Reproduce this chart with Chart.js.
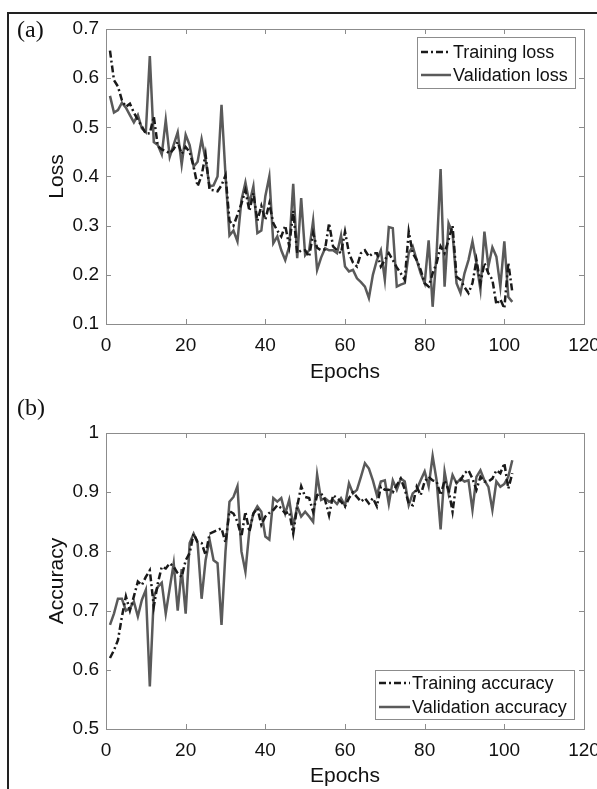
<!DOCTYPE html>
<html>
<head>
<meta charset="utf-8">
<script src="https://cdn.jsdelivr.net/npm/chart.js@4.4.1/dist/chart.umd.min.js"></script>
<style>
  html, body { margin: 0; padding: 0; background: #fff; overflow: hidden; width: 597px; height: 789px; position: relative; }
  #frame { position: absolute; left: 7px; top: 12px; width: 700px; height: 900px; border-left: 2px solid #222; border-top: 2px solid #222; }
  canvas { position: absolute; left: 0; }
  #lossChart { top: 0; }
  #accChart { top: 390px; }
  .tag { position: absolute; font-family: "Liberation Serif", serif; font-size: 24px; color: #111; }
</style>
</head>
<body>
<div id="frame"></div>
<canvas id="lossChart" width="620" height="390"></canvas>
<canvas id="accChart" width="620" height="399"></canvas>
<div class="tag" style="left:17px; top:16px;">(a)</div>
<div class="tag" style="left:17px; top:394px;">(b)</div>
<script>
// epochs 1..102
const epochs = Array.from({ length: 102 }, (_, i) => i + 1);

const trainLoss = [
  0.656, 0.596, 0.583, 0.555, 0.542, 0.548, 0.530, 0.515, 0.502, 0.487,
  0.488, 0.522, 0.462, 0.455, 0.452, 0.447, 0.456, 0.470, 0.446, 0.460,
  0.450, 0.420, 0.380, 0.402, 0.445, 0.373, 0.372, 0.370, 0.382, 0.402,
  0.310, 0.300, 0.322, 0.345, 0.372, 0.330, 0.366, 0.310, 0.340, 0.312,
  0.345, 0.305, 0.290, 0.278, 0.300, 0.258, 0.330, 0.244, 0.250, 0.250,
  0.237, 0.285, 0.255, 0.250, 0.252, 0.305, 0.258, 0.250, 0.244, 0.288,
  0.244, 0.225, 0.217, 0.244, 0.250, 0.237, 0.244, 0.244, 0.217, 0.230,
  0.244, 0.230, 0.215, 0.203, 0.190, 0.288, 0.244, 0.230, 0.210, 0.183,
  0.176, 0.203, 0.224, 0.258, 0.244, 0.271, 0.300, 0.196, 0.190, 0.175,
  0.163, 0.183, 0.230, 0.183, 0.224, 0.203, 0.190, 0.140, 0.150, 0.132,
  0.224, 0.165
];
const valLoss = [
  0.564, 0.530, 0.535, 0.550, 0.540, 0.525, 0.510, 0.525, 0.498, 0.490,
  0.645, 0.470, 0.464, 0.445, 0.515, 0.440, 0.465, 0.490, 0.424, 0.485,
  0.464, 0.420, 0.430, 0.476, 0.434, 0.380, 0.382, 0.400, 0.546, 0.403,
  0.280, 0.290, 0.268, 0.352, 0.388, 0.345, 0.380, 0.285, 0.290, 0.360,
  0.400, 0.264, 0.278, 0.250, 0.230, 0.258, 0.385, 0.234, 0.356, 0.240,
  0.250, 0.310, 0.210, 0.235, 0.254, 0.250, 0.250, 0.244, 0.280, 0.217,
  0.207, 0.210, 0.193, 0.185, 0.176, 0.153, 0.200, 0.230, 0.250, 0.190,
  0.297, 0.295, 0.176, 0.180, 0.183, 0.244, 0.258, 0.230, 0.203, 0.183,
  0.270, 0.135, 0.244, 0.415, 0.176, 0.305, 0.285, 0.183, 0.163, 0.203,
  0.230, 0.268, 0.224, 0.170, 0.288, 0.217, 0.256, 0.237, 0.176, 0.268,
  0.155, 0.145
];
const trainAcc = [
  0.620, 0.633, 0.650, 0.690, 0.724, 0.700, 0.724, 0.749, 0.743, 0.757,
  0.768, 0.707, 0.746, 0.774, 0.771, 0.780, 0.774, 0.763, 0.757, 0.785,
  0.797, 0.830, 0.816, 0.814, 0.794, 0.830, 0.833, 0.836, 0.839, 0.815,
  0.868, 0.864, 0.850, 0.825, 0.867, 0.833, 0.864, 0.873, 0.845, 0.859,
  0.865, 0.870, 0.878, 0.873, 0.864, 0.867, 0.830, 0.876, 0.910, 0.892,
  0.890, 0.867, 0.895, 0.898, 0.887, 0.861, 0.895, 0.890, 0.884, 0.876,
  0.890, 0.900, 0.892, 0.884, 0.890, 0.881, 0.890, 0.876, 0.909, 0.904,
  0.904, 0.900, 0.912, 0.923, 0.905, 0.881, 0.878, 0.909, 0.895, 0.918,
  0.926, 0.920, 0.918, 0.895, 0.920, 0.904, 0.867, 0.918, 0.920, 0.932,
  0.937, 0.923, 0.904, 0.926, 0.918, 0.918, 0.923, 0.937, 0.932, 0.949,
  0.906, 0.932
];
const valAcc = [
  0.676, 0.695, 0.720, 0.720, 0.700, 0.704, 0.715, 0.690, 0.718, 0.735,
  0.572, 0.724, 0.740, 0.747, 0.695, 0.738, 0.780, 0.700, 0.770, 0.695,
  0.814, 0.830, 0.814, 0.720, 0.785, 0.820, 0.785, 0.780, 0.676, 0.800,
  0.884, 0.892, 0.910, 0.800, 0.766, 0.836, 0.864, 0.876, 0.867, 0.825,
  0.820, 0.890, 0.884, 0.890, 0.864, 0.887, 0.842, 0.876, 0.859, 0.867,
  0.859, 0.850, 0.930, 0.887, 0.890, 0.884, 0.887, 0.880, 0.890, 0.877,
  0.915, 0.898, 0.904, 0.926, 0.949, 0.940, 0.920, 0.895, 0.918, 0.920,
  0.880, 0.920, 0.904, 0.923, 0.918, 0.878, 0.898, 0.904, 0.920, 0.935,
  0.910, 0.961, 0.920, 0.837, 0.935, 0.898, 0.929, 0.915, 0.923, 0.918,
  0.920, 0.870, 0.926, 0.937, 0.920, 0.909, 0.870, 0.918, 0.909, 0.914,
  0.926, 0.954
];

const epochTicks = [0, 20, 40, 60, 80, 100, 120];
const lossTicks = [0.1, 0.2, 0.3, 0.4, 0.5, 0.6, 0.7];
const accTicks = [0.5, 0.6, 0.7, 0.8, 0.9, 1.0];

const FONT = '"Liberation Sans", Arial, sans-serif';
const AXIS_GREY = '#8c8c8c';
const DARK = '#1a1a1a';
const GREY_LINE = '#5a5a5a';
const DASH = [7, 3, 2, 3];

// MATLAB style box with inward ticks
const boxPlugin = {
  id: 'box',
  afterDatasetsDraw(chart) {
    const { ctx, chartArea: a, scales } = chart;
    ctx.save();
    ctx.strokeStyle = AXIS_GREY;
    ctx.lineWidth = 1;
    ctx.strokeRect(Math.round(a.left) + 0.5, Math.round(a.top) + 0.5,
      Math.round(a.right - a.left), Math.round(a.bottom - a.top));
    const len = 5;
    ctx.beginPath();
    scales.x.ticks.forEach(t => {
      const px = Math.round(scales.x.getPixelForValue(t.value)) + 0.5;
      ctx.moveTo(px, a.bottom); ctx.lineTo(px, a.bottom - len);
      ctx.moveTo(px, a.top); ctx.lineTo(px, a.top + len);
    });
    scales.y.ticks.forEach(t => {
      const py = Math.round(scales.y.getPixelForValue(t.value)) + 0.5;
      ctx.moveTo(a.left, py); ctx.lineTo(a.left + len, py);
      ctx.moveTo(a.right, py); ctx.lineTo(a.right - len, py);
    });
    ctx.stroke();
    ctx.restore();
  }
};

// legend drawn inside the axes
const boxLegend = {
  id: 'boxLegend',
  afterDraw(chart, args, opts) {
    const { ctx } = chart;
    const b = opts.box;
    ctx.save();
    ctx.fillStyle = '#fff';
    ctx.fillRect(b.x, b.y, b.w, b.h);
    ctx.strokeStyle = AXIS_GREY;
    ctx.lineWidth = 1;
    ctx.strokeRect(b.x + 0.5, b.y + 0.5, b.w, b.h);
    ctx.font = '18px ' + FONT;
    ctx.textBaseline = 'middle';
    ctx.textAlign = 'left';
    chart.data.datasets.forEach((ds, i) => {
      const y = b.rows[i];
      ctx.strokeStyle = ds.borderColor;
      ctx.lineWidth = ds.borderWidth;
      ctx.setLineDash(ds.borderDash || []);
      ctx.beginPath();
      ctx.moveTo(b.lineFrom, y); ctx.lineTo(b.lineTo, y);
      ctx.stroke();
      ctx.setLineDash([]);
      ctx.fillStyle = '#111';
      ctx.fillText(ds.label, b.textX, y + 1);
    });
    ctx.restore();
  }
};

function fmt(v) { return String(Number(Number(v).toFixed(1))); }

function makeChart(canvas, opt) {
  return new Chart(canvas.getContext('2d'), {
    type: 'line',
    data: {
      datasets: [
        {
          label: opt.names[0],
          data: epochs.map((e, i) => ({ x: e, y: opt.train[i] })),
          borderColor: DARK, borderWidth: 2.5, borderDash: DASH,
          pointRadius: 0, tension: 0, fill: false
        },
        {
          label: opt.names[1],
          data: epochs.map((e, i) => ({ x: e, y: opt.val[i] })),
          borderColor: GREY_LINE, borderWidth: 2.5,
          pointRadius: 0, tension: 0, fill: false
        }
      ]
    },
    options: {
      responsive: false,
      animation: false,
      devicePixelRatio: 1,
      layout: { padding: opt.padding },
      plugins: {
        legend: { display: false },
        tooltip: { enabled: false },
        boxLegend: { box: opt.legend }
      },
      scales: {
        x: {
          type: 'linear', min: 0, max: 120,
          afterBuildTicks: s => { s.ticks = epochTicks.map(v => ({ value: v })); },
          afterFit: s => { s.height = opt.xHeight; },
          grid: { display: false, drawTicks: false },
          border: { display: false },
          ticks: { padding: 10, color: '#111', font: { family: FONT, size: 19 }, maxRotation: 0 },
          title: { display: true, text: 'Epochs', color: '#111', font: { family: FONT, size: 21 }, padding: { top: 0, bottom: opt.titlePadB } }
        },
        y: {
          min: opt.yTicks[0], max: opt.yTicks[opt.yTicks.length - 1],
          afterBuildTicks: s => { s.ticks = opt.yTicks.map(v => ({ value: v })); },
          afterFit: s => { s.width = 66; },
          grid: { display: false, drawTicks: false },
          border: { display: false },
          ticks: { padding: 7, color: '#111', font: { family: FONT, size: 19 }, callback: v => fmt(v) },
          title: { display: true, text: opt.yTitle, color: '#111', font: { family: FONT, size: 21 }, padding: { top: 5, bottom: 0 } }
        }
      }
    },
    plugins: [boxPlugin, boxLegend]
  });
}

makeChart(document.getElementById('lossChart'), {
  names: ['Training loss', 'Validation loss'],
  train: trainLoss, val: valLoss,
  yTicks: lossTicks, yTitle: 'Loss',
  padding: { left: 40, top: 29, right: 36, bottom: 4 },
  xHeight: 62, titlePadB: 1,
  legend: { x: 417, y: 37, w: 158, h: 51, rows: [52, 75], lineFrom: 421, lineTo: 451, textX: 453 }
});

makeChart(document.getElementById('accChart'), {
  names: ['Training accuracy', 'Validation accuracy'],
  train: trainAcc, val: valAcc,
  yTicks: accTicks, yTitle: 'Accuracy',
  padding: { left: 40, top: 43, right: 36, bottom: 0 },
  xHeight: 60, titlePadB: 0,
  legend: { x: 375, y: 280, w: 199, h: 49, rows: [293, 317], lineFrom: 379, lineTo: 410, textX: 412 }
});
</script>
</body>
</html>
